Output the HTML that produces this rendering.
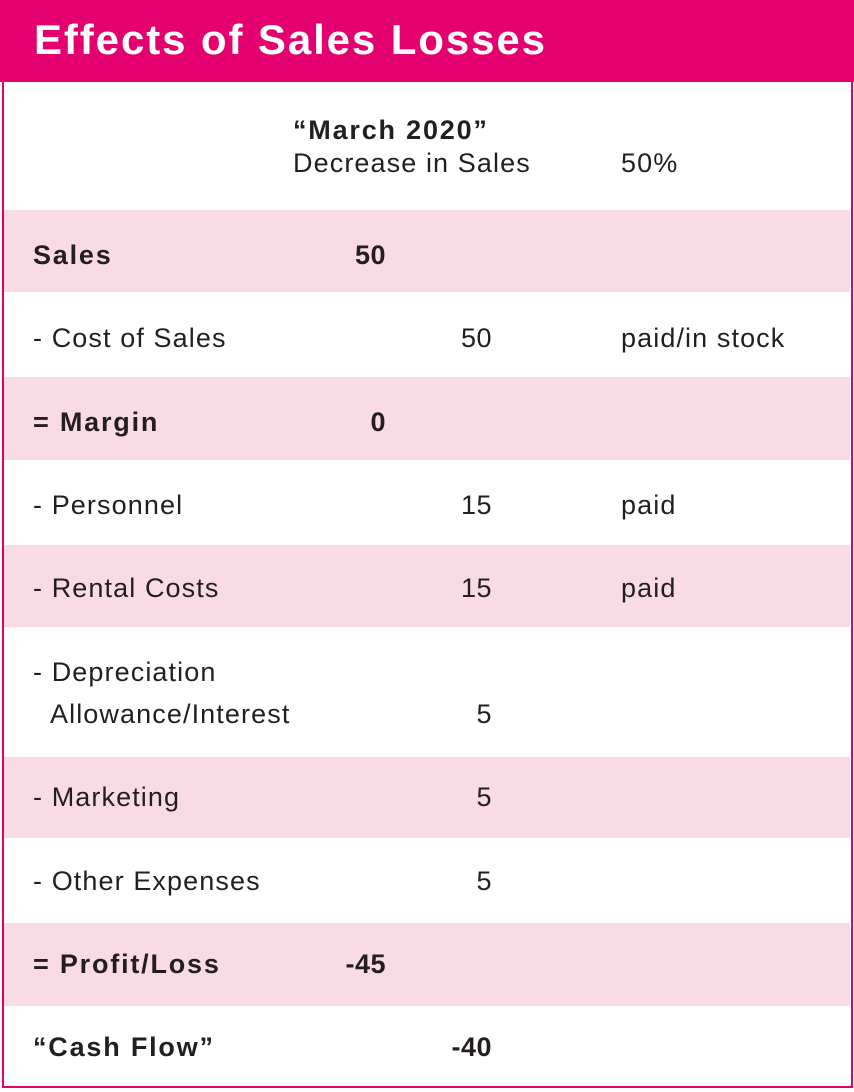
<!DOCTYPE html>
<html><head><meta charset="utf-8"><style>
body{margin:0;width:854px;height:1092px;background:#fff;font-family:"Liberation Sans",sans-serif;position:relative;overflow:hidden}
.frame{position:absolute;left:2px;top:0;width:847px;height:1086px;border:2px solid #e4006f;border-top:none}
.head{position:absolute;left:0;top:0;width:854px;height:82px;background:#e4006f}
.title{position:absolute;left:34px;top:16px;color:#fff;font-size:42px;font-weight:bold;letter-spacing:1.9px}
.row{position:absolute;left:4px;width:846px}
.pink{background:#f9dbe6}
.t{position:absolute;font-size:27px;color:#231f20;white-space:nowrap;line-height:32px;letter-spacing:1.1px}
.b{font-weight:bold;letter-spacing:1.8px}
.r{text-align:right;letter-spacing:0.5px}
</style></head><body>
<div class="head"><div class="title">Effects of Sales Losses</div></div>
<div class="row pink" style="top:210px;height:82px"></div>
<div class="row pink" style="top:377px;height:83px"></div>
<div class="row pink" style="top:545px;height:82px"></div>
<div class="row pink" style="top:757px;height:81px"></div>
<div class="row pink" style="top:923px;height:83px"></div>
<div class="frame"></div>

<div class="t b" style="left:293px;top:114px">“March 2020”</div>
<div class="t" style="left:293px;top:147px">Decrease in Sales</div>
<div class="t" style="left:621px;top:147px">50%</div>

<div class="t b" style="left:33px;top:239px">Sales</div>
<div class="t b r" style="left:286px;width:100px;top:239px">50</div>

<div class="t" style="left:33px;top:322px">- Cost of Sales</div>
<div class="t r" style="left:392px;width:100px;top:322px">50</div>
<div class="t" style="left:621px;top:322px">paid/in stock</div>

<div class="t b" style="left:33px;top:406px">= Margin</div>
<div class="t b r" style="left:286px;width:100px;top:406px">0</div>

<div class="t" style="left:33px;top:489px">- Personnel</div>
<div class="t r" style="left:392px;width:100px;top:489px">15</div>
<div class="t" style="left:621px;top:489px">paid</div>

<div class="t" style="left:33px;top:572px">- Rental Costs</div>
<div class="t r" style="left:392px;width:100px;top:572px">15</div>
<div class="t" style="left:621px;top:572px">paid</div>

<div class="t" style="left:33px;top:656px">- Depreciation</div>
<div class="t" style="left:50px;top:698px">Allowance/Interest</div>
<div class="t r" style="left:392px;width:100px;top:698px">5</div>

<div class="t" style="left:33px;top:781px">- Marketing</div>
<div class="t r" style="left:392px;width:100px;top:781px">5</div>

<div class="t" style="left:33px;top:865px">- Other Expenses</div>
<div class="t r" style="left:392px;width:100px;top:865px">5</div>

<div class="t b" style="left:33px;top:948px">= Profit/Loss</div>
<div class="t b r" style="left:286px;width:100px;top:948px">-45</div>

<div class="t b" style="left:33px;top:1031px">“Cash Flow”</div>
<div class="t b r" style="left:392px;width:100px;top:1031px">-40</div>
</body></html>
